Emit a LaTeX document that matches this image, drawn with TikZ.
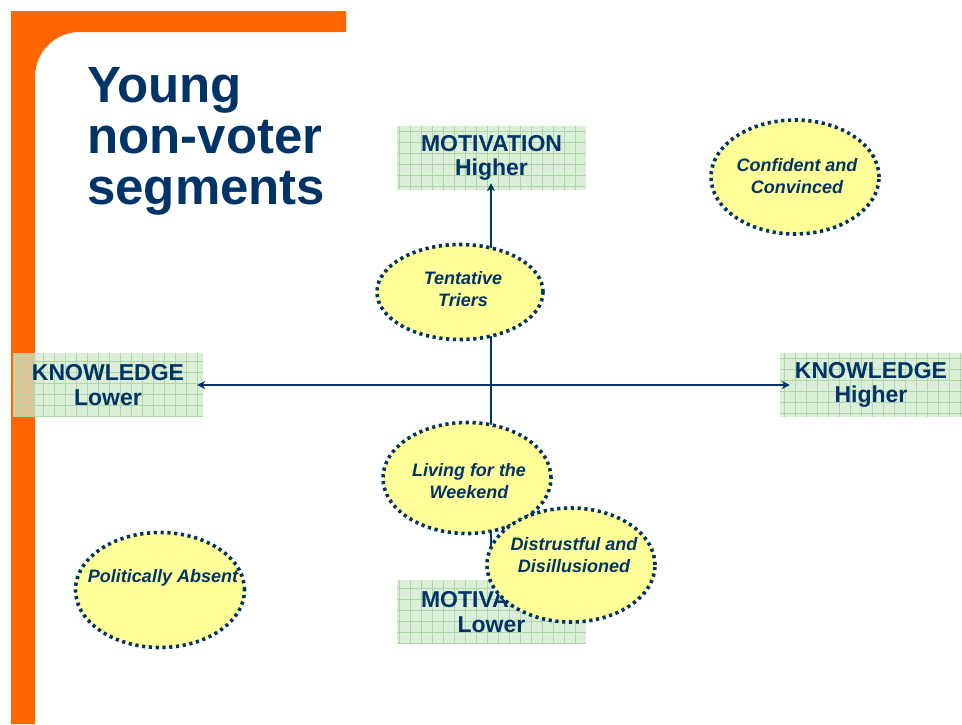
\documentclass[tikz,border=0pt]{standalone}
\usepackage{fontspec}
\setmainfont{Liberation Sans}
\usetikzlibrary{arrows.meta,shapes.geometric}
\definecolor{navy}{HTML}{003366}
\definecolor{frameorange}{HTML}{FF6600}
\definecolor{gfill}{HTML}{CFE8CB}
\definecolor{gline}{HTML}{AED6A8}
\definecolor{ellfill}{HTML}{FFFF99}
\tikzset{
  gbox/.style={fill=gfill, fill opacity=0.75, text opacity=1, minimum width=189pt, minimum height=64pt,
    inner sep=0pt, text=navy, align=center,
    font=\fontsize{23}{24.5}\selectfont\bfseries,
    path picture={\draw[gline, line width=0.8pt, step=11pt] (path picture bounding box.south west) grid (path picture bounding box.north east);}},
  seg/.style={ellipse, fill=ellfill, draw=navy, line width=3.6pt, dash pattern=on 3.2pt off 3.6pt,
    inner sep=0pt, text=navy, align=center,
    font=\fontsize{18}{22}\selectfont\bfseries\itshape},
  segtext/.style={text=navy, align=center, inner sep=0pt, font=\fontsize{18}{22}\selectfont\bfseries\itshape},
  axis/.style={draw=navy, line width=2pt, -{Stealth[length=8pt,width=8pt]}},
  titletext/.style={anchor=base west, inner sep=0pt, text=navy, font=\fontsize{51}{51}\selectfont\bfseries}
}
\begin{document}
\begin{tikzpicture}[x=1pt,y=-1pt]
\useasboundingbox (0,0) rectangle (962,724);
% orange frame
\fill[frameorange] (11,11) -- (346,11) -- (346,32) -- (80,32) .. controls (55,32) and (35,52) .. (35,77) -- (35,724) -- (11,724) -- cycle;
% title
\node[titletext] (t1) at (87,102) {Young};
\node[titletext] (t2) at (87,153) {non-voter};
\node[titletext] (t3) at (87,204) {segments};
% boxes
\node[gbox] (mh) at (491.5,158) {MOTIVATION\\Higher};
\node[gbox, minimum width=190pt] (kl) at (108,385) {KNOWLEDGE\\Lower};
\node[gbox, minimum width=182pt] (kh) at (871,385) {KNOWLEDGE\\Higher};
\node[gbox] (ml) at (491.5,612) {MOTIVATION\\Lower};
% axes
\coordinate (c) at (491,385);
\draw[axis] (c) -- ([xshift=-6pt]kl.east);
\draw[axis] (c) -- ([xshift=10pt]kh.west);
\draw[axis] (c) -- ([yshift=7pt]mh.south -| c);
\draw[axis] (c) -- (ml.north -| c);
% segments
\node[seg, minimum width=166pt, minimum height=95pt] (tt) at (460,292) {};
\node[segtext] (ttt) at (463,289) {Tentative\\Triers};
\node[seg, minimum width=168pt, minimum height=114pt] (cc) at (795,177) {};
\node[segtext] (cct) at (797,176) {Confident and\\Convinced};
\node[seg, minimum width=168pt, minimum height=111pt] (lw) at (467,478) {};
\node[segtext] (lwt) at (469,481) {Living for the\\Weekend};
\node[seg, minimum width=168pt, minimum height=114pt] (dd) at (571,565) {};
\node[segtext] (ddt) at (574,555) {Distrustful and\\Disillusioned};
\node[seg, minimum width=169pt, minimum height=115pt] (pa) at (160,590) {};
\node[segtext] (pat) at (163,578) {Politically Absent};
\end{tikzpicture}
\end{document}
